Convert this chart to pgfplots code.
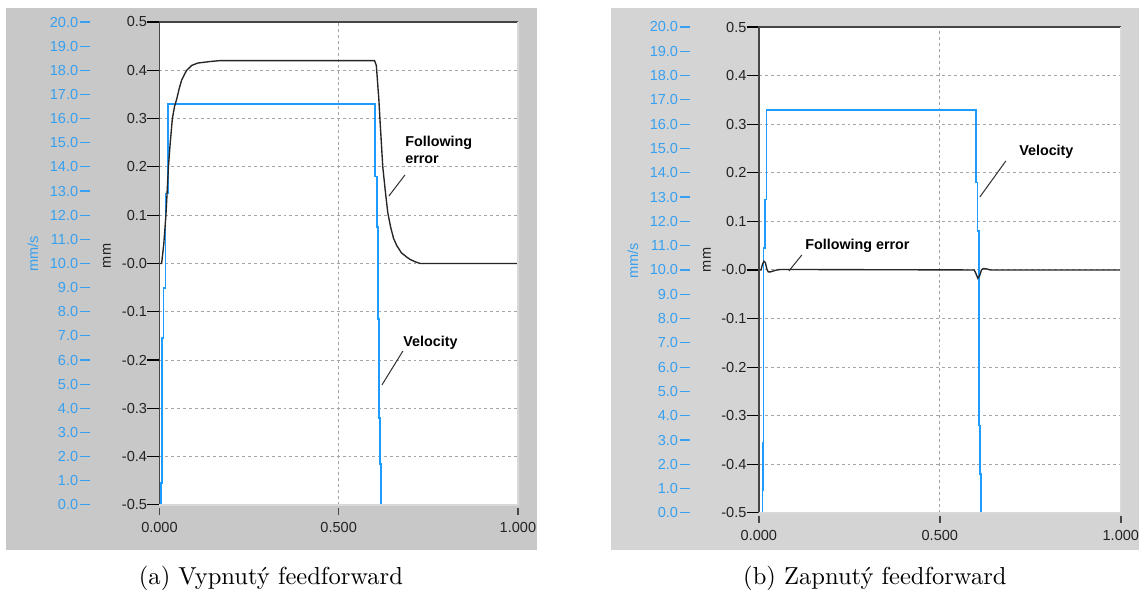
\documentclass[border=0pt]{standalone}
\usepackage{pgfplots}
\pgfplotsset{compat=1.18}
\usepackage{pgfplotstable}
\usepackage{fontspec}
\newfontfamily\arial{Liberation Sans}
\definecolor{velblue}{RGB}{30,155,255}
\definecolor{lblblue}{RGB}{55,160,240}
\definecolor{bgA}{RGB}{200,200,200}
\definecolor{bgB}{RGB}{212,212,212}
\definecolor{gridc}{RGB}{165,165,165}
\definecolor{axdark}{RGB}{70,70,70}
\definecolor{txtdark}{RGB}{35,35,35}

% following error, panel a (t, mm)
\pgfplotstableread{
t e
0.000 0.000
0.006 0.000
0.012 0.040
0.018 0.100
0.025 0.200
0.030 0.250
0.036 0.300
0.042 0.325
0.048 0.340
0.055 0.362
0.062 0.380
0.070 0.392
0.076 0.400
0.090 0.410
0.107 0.415
0.140 0.418
0.169 0.420
0.600 0.420
0.605 0.410
0.608 0.380
0.612 0.340
0.615 0.300
0.619 0.250
0.623 0.200
0.630 0.150
0.637 0.105
0.645 0.075
0.653 0.052
0.662 0.037
0.675 0.022
0.690 0.013
0.700 0.008
0.715 0.003
0.727 0.000
1.000 0.000
}\ferrA

% velocity, panel a (t, mm/s)
\pgfplotstableread{
t v
0.004 0.0
0.004 0.9
0.006 0.9
0.006 2.9
0.008 2.9
0.008 6.9
0.011 6.9
0.011 9.0
0.017 9.0
0.017 12.9
0.023 12.9
0.023 16.6
0.602 16.6
0.602 13.6
0.607 13.6
0.607 11.5
0.609 11.5
0.609 7.7
0.612 7.7
0.612 3.6
0.615 3.6
0.615 1.7
0.619 1.7
0.619 0.0
}\velA

% following error, panel b (t, mm)
\pgfplotstableread{
t e
0.000 0.000
0.006 0.000
0.010 0.012
0.014 0.018
0.018 0.015
0.022 0.002
0.026 -0.004
0.032 -0.004
0.040 -0.002
0.050 0.000
0.060 0.001
0.595 0.000
0.600 -0.008
0.605 -0.017
0.610 -0.012
0.615 0.000
0.620 0.003
0.630 0.002
0.640 0.000
1.000 0.000
}\ferrB

% velocity, panel b (t, mm/s)
\pgfplotstableread{
t v
0.010 0.0
0.010 0.95
0.011 0.95
0.011 2.9
0.013 2.9
0.013 10.9
0.018 10.9
0.018 12.9
0.021 12.9
0.021 16.6
0.599 16.6
0.599 13.6
0.604 13.6
0.604 11.6
0.608 11.6
0.608 3.6
0.611 3.6
0.611 1.6
0.614 1.6
0.614 0.0
}\velB

\pgfplotsset{
  mainax/.style={
    scale only axis, anchor=south west,
    xmin=0, xmax=1, ymin=-0.5, ymax=0.5,
    axis background/.style={fill=white},
    axis line style={draw=none},
    xtick={0,0.5,1}, xticklabels={0.000,0.500,1.000},
    ytick={-0.5,-0.4,-0.3,-0.2,-0.1,0,0.1,0.2,0.3,0.4,0.5},
    yticklabels={-0.5,-0.4,-0.3,-0.2,-0.1,-0.0,0.1,0.2,0.3,0.4,0.5},
    grid=major,
    major grid style={gridc, line width=0.45pt, dash pattern=on 1.3pt off 1.3pt},
    tick align=outside, major tick length=5.3pt,
    ytick pos=left, xtick pos=bottom,
    ytick style={black, line width=0.5pt},
    xtick style={draw=none},
    tick label style={font=\arial\fontsize{6.4}{7.5}\selectfont, text=txtdark},
    yticklabel style={inner sep=0pt},
    xticklabel style={inner sep=0pt, yshift=-2pt},
    after end axis/.code={
      \draw[axdark, line width=0.8pt] (rel axis cs:0,0) -- (rel axis cs:0,1) -- (rel axis cs:1,1);
      \draw[black!15, line width=0.6pt] (rel axis cs:1,1) -- (rel axis cs:1,0) -- (rel axis cs:0,0);
      \draw[axdark, line width=0.6pt] ([yshift=-1.3pt]axis cs:0,-0.5) -- ++(0,-3pt);
      \draw[axdark, line width=0.6pt] ([yshift=-1.3pt]axis cs:0.5,-0.5) -- ++(0,-3pt);
      \draw[axdark, line width=0.6pt] ([yshift=-1.3pt]axis cs:1,-0.5) -- ++(0,-3pt);
    },
  },
  blueax/.style={
    scale only axis, anchor=south west, width=5pt,
    xmin=0, xmax=1, ymin=0, ymax=20,
    hide x axis, axis y line*=left, y axis line style={draw=none},
    ytick={0,1,...,20},
    yticklabels={0.0,1.0,2.0,3.0,4.0,5.0,6.0,7.0,8.0,9.0,10.0,11.0,12.0,13.0,14.0,15.0,16.0,17.0,18.0,19.0,20.0},
    tick align=outside, major tick length=4.4pt,
    ytick style={lblblue, line width=0.5pt},
    yticklabel style={font=\arial\fontsize{6.4}{7.5}\selectfont, text=lblblue, inner sep=0pt, xshift=-0.6pt},
  },
}

\begin{document}
\begin{tikzpicture}
\begin{scope}[x=0.44pt, y=-0.44pt]
  \path (0,0) rectangle (1139,596);
  \fill[bgA] (6,8) rectangle (537,550);
  \fill[bgB] (611,8) rectangle (1139,550);
\end{scope}

% ---- panel a ----
\begin{axis}[blueax, at={(39.6pt,-222.2pt)}, height=212.52pt]
\end{axis}
\begin{axis}[mainax, at={(70.18pt,-222.2pt)}, width=157.74pt, height=212.52pt]
  \addplot[velblue, line width=0.8pt] table[x=t, y expr=\thisrow{v}/20-0.5] {\velA};
  \addplot[black!85, line width=0.6pt] table[x=t, y=e] {\ferrA};
\end{axis}

% ---- panel b ----
\begin{axis}[blueax, at={(303.6pt,-225.72pt)}, height=213.84pt]
\end{axis}
\begin{axis}[mainax, at={(333.96pt,-225.72pt)}, width=159.28pt, height=213.84pt]
  \addplot[velblue, line width=0.8pt] table[x=t, y expr=\thisrow{v}/20-0.5] {\velB};
  \addplot[black!85, line width=0.6pt] table[x=t, y=e] {\ferrB};
\end{axis}

\begin{scope}[x=0.44pt, y=-0.44pt]
  \tikzset{lbl/.style={font=\arial\fontsize{6.4}{7.5}\selectfont, inner sep=0pt},
           ann/.style={font=\arial\bfseries\fontsize{6.3}{7.5}\selectfont, inner sep=0pt, anchor=west, align=left},
           lead/.style={black!80, line width=0.45pt}}
  % axis titles
  \node[lbl, rotate=90, text=lblblue] at (33,254) {mm/s};
  \node[lbl, rotate=90, text=txtdark] at (107,256) {mm};
  \node[lbl, rotate=90, text=lblblue] at (633,261) {mm/s};
  \node[lbl, rotate=90, text=txtdark] at (707,260) {mm};
  % annotations panel a
  \node[ann] at (405,150) {Following\\error};
  \draw[lead] (405,175) -- (389,196);
  \node[ann] at (403,343) {Velocity};
  \draw[lead] (403,351) -- (382,385);
  % annotations panel b
  \node[ann] at (1019,152) {Velocity};
  \draw[lead] (1006,161) -- (980,197);
  \node[ann] at (805,246) {Following error};
  \draw[lead] (802,255) -- (789,271);
  % captions
  \node[font=\fontsize{10.8}{13}\selectfont] at (271,578) {(a) Vypnutý feedforward};
  \node[font=\fontsize{10.8}{13}\selectfont] at (875,578) {(b) Zapnutý feedforward};
\end{scope}
\end{tikzpicture}
\end{document}
